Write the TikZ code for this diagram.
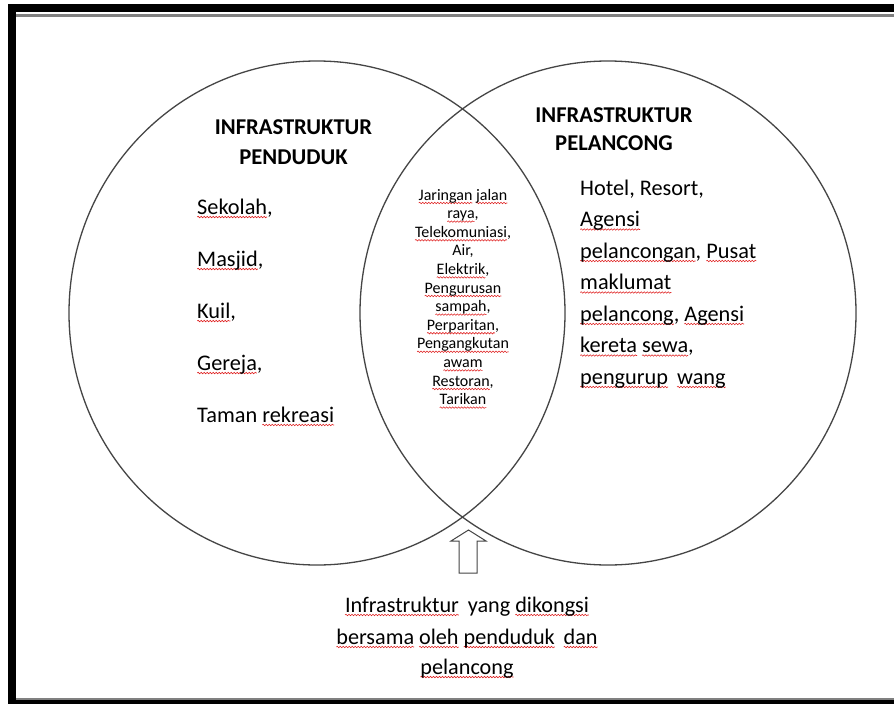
\documentclass[tikz,border=0pt]{standalone}
\usepackage{fontspec}
\setmainfont{Carlito}
\usetikzlibrary{shapes.geometric,decorations.pathmorphing}
\definecolor{ringgray}{HTML}{454545}
\definecolor{framegray}{HTML}{808080}
\definecolor{wavered}{HTML}{E02020}
\newsavebox\wvbox
\newdimen\wvw
\newcommand\wv[1]{\sbox\wvbox{#1}\wvw=\wd\wvbox\leavevmode\rlap{\tikz[baseline=0pt,x=1pt,y=1pt]{\useasboundingbox (0,0);
  \draw[wavered,line width=0.55pt,decorate,decoration={snake,amplitude=0.75pt,segment length=3pt}] (0,-3) -- (\wvw,-3);}}\usebox\wvbox}
\begin{document}
\begin{tikzpicture}[x=1pt,y=-1pt,
  ring/.style={draw=ringgray, line width=1.3pt, ellipse, inner sep=0pt,
    minimum width=496pt, minimum height=504pt},
  head/.style={font=\fontsize{22.6}{26}\selectfont\bfseries, inner sep=0pt, anchor=base},
  body/.style={font=\fontsize{22.3}{26}\selectfont, inner sep=0pt, anchor=base west},
  mid/.style={font=\fontsize{16}{19}\selectfont, inner sep=0pt, anchor=base},
  note/.style={font=\fontsize{22.2}{26}\selectfont, inner sep=0pt, anchor=base},
  blockarrow/.style={draw=ringgray, fill=white, line width=1pt, line join=miter}]
\useasboundingbox (0,0) rectangle (894,704);
\fill[white] (0,0) rectangle (894,704);
% frame
\fill[black] (8,4) rectangle (894,12);
\fill[black] (8,4) rectangle (16,704);
\fill[framegray] (16,14) rectangle (894,17);
\fill[framegray] (16,698) rectangle (894,700);
\fill[black] (8,700) rectangle (894,704);
% circles
\node[ring] (lc) at (317,313) {};
\node[ring] (rc) at (608,313) {};
% headings
\node[head] (lh1) at (293.5,134) {INFRASTRUKTUR};
\node[head] (lh2) at (293.5,164) {PENDUDUK};
\node[head] (rh1) at (614,122) {INFRASTRUKTUR};
\node[head] (rh2) at (614,150) {PELANCONG};
% left list
\node[body] (l1) at (197,214) {\wv{Sekolah},};
\node[body] (l2) at (197,266) {\wv{Masjid},};
\node[body] (l3) at (197,318) {\wv{Kuil},};
\node[body] (l4) at (197,370) {\wv{Gereja},};
\node[body] (l5) at (197,422) {Taman \wv{rekreasi}};
% right list
\node[body] (r1) at (580,195) {Hotel, Resort,};
\node[body] (r2) at (580,226.5) {\wv{Agensi}};
\node[body] (r3) at (580,258) {\wv{pelancongan}, \wv{Pusat}};
\node[body] (r4) at (580,289.5) {\wv{maklumat}};
\node[body] (r5) at (580,321) {\wv{pelancong}, \wv{Agensi}};
\node[body] (r6) at (580,352.5) {\wv{kereta} \wv{sewa},};
\node[body] (r7) at (580,384) {\wv{pengurup}\hspace{0.4em}\wv{wang}};
% middle list
\node[mid] (m1) at (463,200) {\wv{Jaringan} \wv{jalan}};
\node[mid] (m2) at (463,218.6) {\wv{raya},};
\node[mid] (m3) at (463,237.2) {\wv{Telekomuniasi},};
\node[mid] (m4) at (463,255.8) {Air,};
\node[mid] (m5) at (463,274.4) {\wv{Elektrik},};
\node[mid] (m6) at (463,293) {\wv{Pengurusan}};
\node[mid] (m7) at (463,311.6) {\wv{sampah},};
\node[mid] (m8) at (463,330.2) {\wv{Perparitan},};
\node[mid] (m9) at (463,348.8) {\wv{Pengangkutan}};
\node[mid] (m10) at (463,367.4) {\wv{awam}};
\node[mid] (m11) at (463,386) {\wv{Restoran},};
\node[mid] (m12) at (463,404.6) {\wv{Tarikan}};
% block arrow
\draw[blockarrow] (459,573) -- (459,541) -- (451,541) -- (468.5,530) -- (486,541)
  -- (477,541) -- (477,573) -- cycle;
% note
\node[note] (n1) at (467,612) {\wv{Infrastruktur}\hspace{0.4em}yang \wv{dikongsi}};
\node[note] (n2) at (467,644) {\wv{bersama} \wv{oleh} \wv{penduduk}\hspace{0.4em}\wv{dan}};
\node[note] (n3) at (467,674) {\wv{pelancong}};
\end{tikzpicture}
\end{document}
